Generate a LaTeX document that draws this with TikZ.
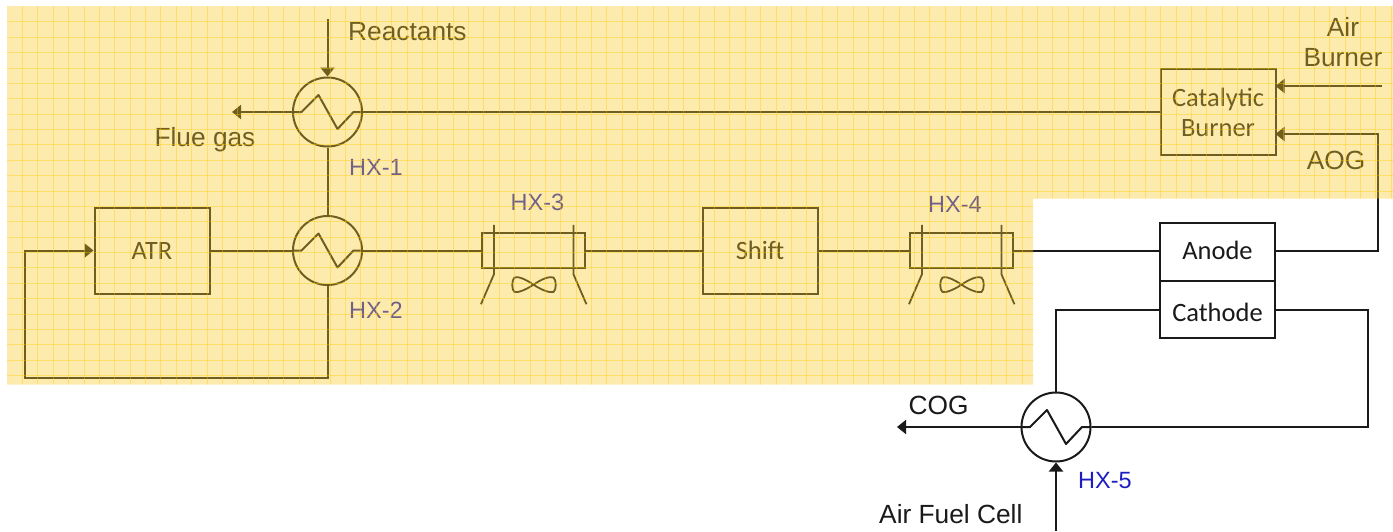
\documentclass[tikz,border=0pt]{standalone}
\usepackage{fontspec}
\setmainfont{Liberation Sans}
\newfontfamily\calfont{Carlito}
\usetikzlibrary{arrows.meta}
\definecolor{linek}{HTML}{1A1A1A}
\definecolor{hxblue}{HTML}{1E1EC0}
\definecolor{overlayY}{HTML}{FCCD2A}
\definecolor{gridY}{HTML}{FFC800}
\tikzset{
  flow/.style={draw=linek,line width=2pt},
  flowarrow/.style={flow,-{Triangle[length=9pt,width=14pt]}},
  unitbox/.style={draw=linek,line width=2pt,rectangle,inner sep=0pt,minimum width=115pt,font=\calfont\fontsize{26.5}{31}\selectfont,text=linek,align=center},
  hxcircle/.style={draw=linek,line width=2pt,circle,inner sep=0pt,minimum size=69pt},
  lab/.style={font=\fontsize{26.3}{31}\selectfont,text=linek,inner sep=0pt,align=center},
  hxlab/.style={font=\fontsize{23.5}{28}\selectfont,text=hxblue,inner sep=0pt,anchor=west},
  coolerbox/.style={draw=linek,line width=2pt,inner sep=0pt,minimum width=103.5pt,minimum height=35.5pt},
  fanthin/.style={draw=linek,line width=1.8pt},
}
% zigzag inside a heat exchanger, from circle edge to circle edge
\newcommand{\hxzig}[1]{\draw[flow,line join=round] (#1.west) -- ([xshift=-26pt]#1.center) -- ([xshift=-9pt,yshift=17pt]#1.center) -- ([xshift=10pt,yshift=-17pt]#1.center) -- ([xshift=26pt]#1.center) -- (#1.east);}
\begin{document}
\begin{tikzpicture}[x=1pt,y=-1pt]
\useasboundingbox (0,0) rectangle (1393,531);
\fill[white] (0,0) rectangle (1393,531);

% units
\node[unitbox,minimum height=86pt] (atr) at (152,250.5) {ATR};
\node[unitbox,minimum height=86pt] (shift) at (760,250.5) {Shift};
\node[unitbox,minimum height=86pt] (burner) at (1218,112) {Catalytic\\[-1pt]Burner};
\node[unitbox,minimum height=57.5pt] (anode) at (1217.5,252) {\raisebox{3pt}{Anode}};
\node[unitbox,minimum height=57.5pt] (cathode) at (1217.5,309.5) {\rule{0pt}{24pt}Cathode};

% heat exchangers
\node[hxcircle] (hx1) at (327.5,112) {};
\node[hxcircle] (hx2) at (327.5,250.5) {};
\node[hxcircle] (hx5) at (1056,427) {};
\hxzig{hx1}\hxzig{hx2}\hxzig{hx5}

% air coolers
\node[coolerbox] (hx3) at (533.7,250.5) {};
\node[coolerbox] (hx4) at (961.7,250.5) {};
\foreach \h/\fx in {hx3/533.5,hx4/961.5}{
  \draw[fanthin] ([xshift=13pt,yshift=7pt]\h.north west) -- ([xshift=13pt,yshift=-5pt]\h.south west) -- ([yshift=-35pt]\h.south west);
  \draw[fanthin] ([xshift=-13pt,yshift=7pt]\h.north east) -- ([xshift=-13pt,yshift=-5pt]\h.south east) -- ([yshift=-35pt]\h.south east);
  \draw[fanthin,line join=round] (\fx,284.7) .. controls (\fx-8,279) and (\fx-16,276) .. (\fx-19,277.5) .. controls (\fx-22,280) and (\fx-22,290) .. (\fx-19,292) .. controls (\fx-16,293) and (\fx-8,290) .. (\fx,284.7)
    .. controls (\fx+8,279) and (\fx+16,276) .. (\fx+20,277.5) .. controls (\fx+23,280) and (\fx+23,290) .. (\fx+20,292) .. controls (\fx+16,293) and (\fx+8,290) .. (\fx,284.7);
}

% free ends
\coordinate (reactIn) at (327.5,19);
\coordinate (flueOut) at (232,112);
\coordinate (airIn) at (1382,86);
\coordinate (burnAir) at (1275.5,86);
\coordinate (burnAog) at (1275.5,134);
\coordinate (aogCorner) at (1378,134);
\coordinate (cogOut) at (897,427);
\coordinate (afcIn) at (1056,531);
\coordinate (cathR) at (1368,427);

% connectors
\draw[flowarrow] (reactIn) -- (hx1.north);
\draw[flowarrow] (hx1.west) -- (flueOut);
\draw[flow] (burner.west |- hx1.east) -- (hx1.east);
\draw[flow] (hx1.south) -- (hx2.north);
\draw[flow] (atr.east) -- (hx2.west);
\draw[flow] (hx2.east) -- (hx3.west);
\draw[flow] (hx3.east) -- (shift.west);
\draw[flow] (shift.east) -- (hx4.west);
\draw[flow] (hx4.east) -- (anode.west |- hx4.east);
\draw[flowarrow] (hx2.south) -- (327.5,378) -- (25,378) -- (25,250.5) -- (atr.west);
\draw[flowarrow] (airIn) -- (burnAir);
\draw[flowarrow] (anode.east |- 0,250.5) -- (1378,250.5) -- (aogCorner) -- (burnAog);
\draw[flow] (cathode.west) -- (hx5.north |- cathode.west) -- (hx5.north);
\draw[flow] (cathode.east) -- (1368,309.5) -- (cathR) -- (hx5.east);
\draw[flowarrow] (hx5.west) -- (cogOut);
\draw[flowarrow] (afcIn) -- (hx5.south);

% labels
\node[lab,anchor=west] (tReact) at (348,32) {Reactants};
\node[lab] (tFlue) at (205,140) {Flue gas};
\node[lab] (tAir) at (1343,42) {Air\\[-1pt]Burner};
\node[lab] (tAog) at (1336,160.5) {AOG};
\node[lab] (tCog) at (938.5,405) {COG};
\node[lab,anchor=west] (tAfc) at (879,514) {Air Fuel Cell};
\node[hxlab] (l1) at (349,167) {HX-1};
\node[hxlab] (l2) at (349,310) {HX-2};
\node[hxlab,anchor=center] (l3) at (537.5,202) {HX-3};
\node[hxlab,anchor=center] (l4) at (955,204) {HX-4};
\node[hxlab] (l5) at (1078,480.5) {HX-5};

% translucent highlighted region with grid
\begin{scope}
\path[clip] (7,6) -- (1393,6) -- (1393,198.5) -- (1033,198.5) -- (1033,384.5) -- (7,384.5) -- cycle;
\fill[overlayY,opacity=.38] (0,0) rectangle (1393,531);
\foreach \i in {0,...,90}{
  \draw[gridY,line width=.6pt,opacity=.38] ({22.3+15.38*\i},0) -- ({22.3+15.38*\i},531);
}
\foreach \i in {0,...,25}{
  \draw[gridY,line width=.6pt,opacity=.38] (0,{21.7+15.38*\i}) -- (1393,{21.7+15.38*\i});
}
\end{scope}
\end{tikzpicture}
\end{document}
